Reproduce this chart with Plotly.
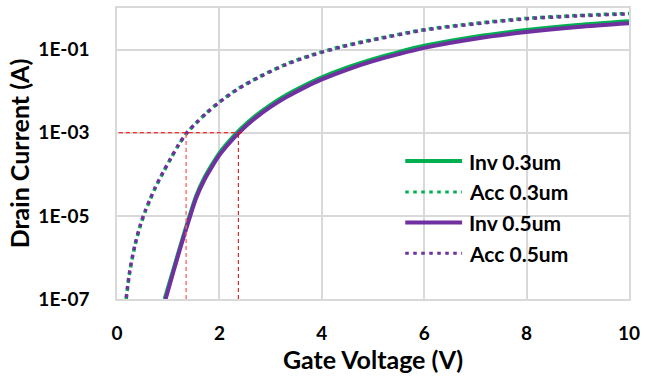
import plotly.graph_objects as go

# ---- data ----
v_acc = [0.18, 0.25, 0.35, 0.46, 0.55, 0.65, 0.75, 0.9, 1.05, 1.2, 1.38, 1.55, 1.75, 2.0,
         2.35, 2.8, 3.3, 3.8, 4.4, 5.0, 6.0, 7.0, 8.0, 9.0, 10.0]
i_acc_03 = [1.0e-7, 4.47e-7, 1.91e-6, 6.03e-6, 1.26e-5, 2.51e-5, 4.79e-5, 1.10e-4, 2.40e-4, 5.01e-4,
            1.05e-3, 1.74e-3, 3.02e-3, 5.5e-3, 0.0112, 0.0229, 0.0447, 0.0741, 0.120, 0.174,
            0.302, 0.427, 0.562, 0.661, 0.741]
i_acc_05 = [1.08e-7, 4.8e-7, 2.0e-6, 6.3e-6, 1.3e-5, 2.58e-5, 4.9e-5, 1.12e-4, 2.43e-4, 5.05e-4,
            1.05e-3, 1.72e-3, 2.98e-3, 5.4e-3, 0.0110, 0.0224, 0.0437, 0.0724, 0.117, 0.170,
            0.295, 0.416, 0.550, 0.645, 0.724]

v_inv_03 = [0.93, 1.1, 1.25, 1.4, 1.55, 1.7, 1.85, 2.0, 2.2, 2.4, 2.7, 3.0, 3.3, 3.6, 4.0,
            4.5, 5.0, 5.5, 6.0, 7.0, 8.0, 9.0, 10.0]
i_inv_03 = [1.0e-7, 5.0e-7, 2.14e-6, 8.5e-6, 3.08e-5, 7.93e-5, 1.66e-4, 3.23e-4, 6.44e-4, 1.18e-3,
            2.51e-3, 4.67e-3, 7.93e-3, 0.0125, 0.0214, 0.0371, 0.0588, 0.0869, 0.123, 0.204,
            0.295, 0.389, 0.478]
v_inv_05 = [0.95, 1.1, 1.25, 1.4, 1.55, 1.7, 1.85, 2.0, 2.2, 2.4, 2.7, 3.0, 3.3, 3.6, 4.0,
            4.5, 5.0, 5.5, 6.0, 7.0, 8.0, 9.0, 10.0]
i_inv_05 = [1.0e-7, 4.47e-7, 1.91e-6, 7.59e-6, 2.75e-5, 7.08e-5, 1.48e-4, 2.88e-4, 5.75e-4, 1.05e-3,
            2.24e-3, 4.17e-3, 7.08e-3, 0.0112, 0.0191, 0.0331, 0.0525, 0.0776, 0.110, 0.182,
            0.263, 0.347, 0.427]

series_names = ["Inv 0.3um", "Acc 0.3um", "Inv 0.5um", "Acc 0.5um"]

i_threshold = 1e-3
vth_acc = 1.35
vth_inv = 2.37
h_line_x = [-0.1, 2.5]

y_tickvals = [1e-7, 1e-5, 1e-3, 1e-1]
y_ticktext = ["1E-07", "1E-05", "1E-03", "1E-01"]
x_tickvals = [0, 2, 4, 6, 8, 10]

GREEN = "#00B050"
PURPLE = "#7030A0"
FONT = "Lato"
DOT = "3.5px,4.5px"

styles = [
    dict(color=GREEN, width=4, dash="solid"),
    dict(color=GREEN, width=3.5, dash=DOT),
    dict(color=PURPLE, width=4, dash="solid"),
    dict(color=PURPLE, width=3.5, dash=DOT),
]
xs = [v_inv_03, v_acc, v_inv_05, v_acc]
ys = [i_inv_03, i_acc_03, i_inv_05, i_acc_05]

fig = go.Figure()
for name, x, y, st in zip(series_names, xs, ys, styles):
    fig.add_trace(go.Scatter(x=x, y=y, name=name, mode="lines", showlegend=False,
                             line=dict(color=st["color"], width=st["width"], dash=st["dash"],
                                       shape="spline", smoothing=0.8)))

# threshold guide lines
fig.add_trace(go.Scatter(x=h_line_x, y=[i_threshold, i_threshold], mode="lines", showlegend=False,
                         line=dict(color="#FF0000", width=1, dash="4px,3px"), hoverinfo="skip"))
fig.add_trace(go.Scatter(x=[vth_acc, vth_acc], y=[y_tickvals[0], i_threshold], mode="lines",
                         showlegend=False, line=dict(color="#FF6060", width=1.3, dash="4px,3px"),
                         hoverinfo="skip"))
fig.add_trace(go.Scatter(x=[vth_inv, vth_inv], y=[y_tickvals[0], i_threshold], mode="lines",
                         showlegend=False, line=dict(color="#D00000", width=1, dash="4px,3px"),
                         hoverinfo="skip"))

# custom legend (paper coordinates)
leg_x0, leg_x1, leg_tx = 0.563, 0.674, 0.683
leg_y = [0.474, 0.368, 0.263, 0.157]
for name, st, ly in zip(series_names, styles, leg_y):
    fig.add_shape(type="line", xref="paper", yref="paper", x0=leg_x0, x1=leg_x1, y0=ly, y1=ly,
                  line=dict(color=st["color"], width=st["width"] if st["dash"] == "solid" else 3,
                            dash=st["dash"]))
    fig.add_annotation(xref="paper", yref="paper", x=leg_tx, y=ly, text=name, showarrow=False,
                       xanchor="left", yanchor="middle",
                       font=dict(family=FONT, size=21, color="black", weight="bold"))

fig.update_layout(
    width=646, height=376,
    margin=dict(l=117, r=14, t=6, b=77),
    paper_bgcolor="white", plot_bgcolor="white",
    font=dict(family=FONT, color="black"),
    showlegend=False,
)
fig.update_xaxes(range=[0, 10], tickvals=x_tickvals, showgrid=True, gridcolor="#D9D9D9",
                 gridwidth=1.5, showline=True, linecolor="#D9D9D9", linewidth=1.5, mirror=True,
                 zeroline=False, ticks="", ticklabelstandoff=16,
                 tickfont=dict(family=FONT, size=19, weight="bold"),
                 title=dict(text="Gate Voltage (V)", font=dict(family=FONT, size=25, weight="bold"),
                            standoff=0))
fig.update_yaxes(type="log", range=[-7, 0], tickvals=y_tickvals, ticktext=y_ticktext,
                 showgrid=True, gridcolor="#D9D9D9", gridwidth=1.5, showline=True,
                 linecolor="#D9D9D9", linewidth=1.5, mirror=True, zeroline=False, ticks="",
                 ticklabelstandoff=22,
                 tickfont=dict(family=FONT, size=19, weight="bold"),
                 title=dict(text="Drain Current (A)", font=dict(family=FONT, size=25, weight="bold"),
                            standoff=2))

fig.write_html("out.html")
